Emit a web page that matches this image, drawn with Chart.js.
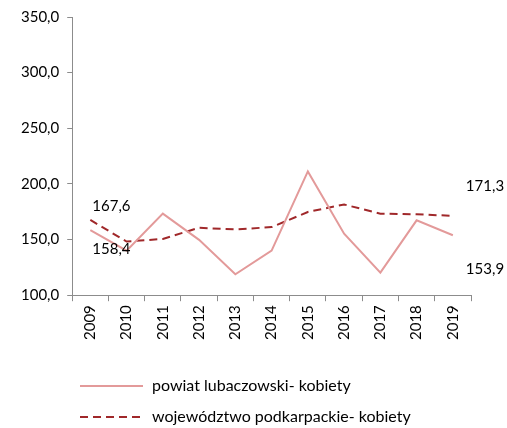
<!DOCTYPE html>
<html>
<head>
<meta charset="utf-8">
<script src="https://cdn.jsdelivr.net/npm/chart.js@4/dist/chart.umd.min.js"></script>
<style>
  html, body { margin: 0; padding: 0; background: #fff; }
  #wrap { position: relative; width: 507px; height: 428px; }
</style>
</head>
<body>
<div id="wrap"><canvas id="c" width="507" height="428"></canvas></div>
<script>
const years = ['2009','2010','2011','2012','2013','2014','2015','2016','2017','2018','2019'];
const powiat = [158.4, 140.0, 173.3, 149.7, 118.8, 140.0, 211.2, 155.2, 120.3, 167.3, 153.9];
const wojewodztwo = [167.6, 148.2, 150.6, 160.6, 159.1, 161.2, 174.8, 181.5, 173.3, 172.7, 171.3];
const yTicks = [100, 150, 200, 250, 300, 350];
const seriesNames = ['powiat lubaczowski- kobiety', 'województwo podkarpackie- kobiety'];

const FONT = 'Lato, "Open Sans", sans-serif';
const fmt = v => v.toFixed(1).replace('.', ',');

// value labels at the first and last year of each series
const valueLabels = {
  id: 'valueLabels',
  afterDatasetsDraw(chart) {
    const ctx = chart.ctx;
    const x = chart.scales.x, y = chart.scales.y;
    const last = years.length - 1;
    const items = [
      { ds: 1, i: 0, dx: 2, dy: -14 },
      { ds: 0, i: 0, dx: 2, dy: 19 },
      { ds: 1, i: last, dx: 13, dy: -30 },
      { ds: 0, i: last, dx: 13, dy: 34 }
    ];
    ctx.save();
    ctx.font = '15px ' + FONT;
    ctx.fillStyle = '#000';
    ctx.textBaseline = 'middle';
    ctx.textAlign = 'left';
    items.forEach(it => {
      const v = chart.data.datasets[it.ds].data[it.i];
      ctx.fillText(fmt(v), x.getPixelForValue(it.i) + it.dx, y.getPixelForValue(v) + it.dy);
    });
    ctx.restore();
  }
};

// stacked legend below the axis
const sideLegend = {
  id: 'sideLegend',
  afterDraw(chart) {
    const ctx = chart.ctx;
    const rows = [386, 417];
    ctx.save();
    chart.data.datasets.forEach((ds, k) => {
      const yy = rows[k];
      ctx.strokeStyle = ds.borderColor;
      ctx.lineWidth = ds.borderWidth;
      ctx.setLineDash(ds.borderDash || []);
      ctx.beginPath();
      ctx.moveTo(80, yy);
      ctx.lineTo(143, yy);
      ctx.stroke();
      ctx.setLineDash([]);
      ctx.fillStyle = '#000';
      ctx.font = '16px ' + FONT;
      ctx.textBaseline = 'middle';
      ctx.fillText(ds.label, 152, yy);
    });
    ctx.restore();
  }
};

new Chart(document.getElementById('c'), {
  type: 'line',
  data: {
    labels: years,
    datasets: [
      { label: seriesNames[0], data: powiat, borderColor: '#E39A9A', borderWidth: 2,
        pointRadius: 0, tension: 0, fill: false },
      { label: seriesNames[1], data: wojewodztwo, borderColor: '#A0282A', borderWidth: 2,
        borderDash: [8, 5], pointRadius: 0, tension: 0, fill: false }
    ]
  },
  options: {
    responsive: false,
    animation: false,
    layout: { padding: { left: 13, right: 36, top: 14, bottom: 84 } },
    plugins: { legend: { display: false }, tooltip: { enabled: false } },
    scales: {
      x: {
        offset: true,
        grid: { display: true, offset: true, drawOnChartArea: false, drawTicks: true,
                tickLength: 6, color: '#8c8c8c' },
        border: { color: '#8c8c8c', width: 1 },
        ticks: { minRotation: 90, maxRotation: 90, color: '#000', padding: 4,
                 font: { family: FONT, size: 15 } }
      },
      y: {
        min: 100, max: 350,
        afterBuildTicks: s => { s.ticks = yTicks.map(v => ({ value: v })); },
        grid: { display: true, drawOnChartArea: false, drawTicks: true, tickLength: 5, color: '#8c8c8c' },
        border: { color: '#8c8c8c', width: 1 },
        ticks: { color: '#000', padding: 8, callback: v => fmt(v),
                 font: { family: FONT, size: 15 } }
      }
    }
  },
  plugins: [valueLabels, sideLegend]
});
</script>
</body>
</html>
